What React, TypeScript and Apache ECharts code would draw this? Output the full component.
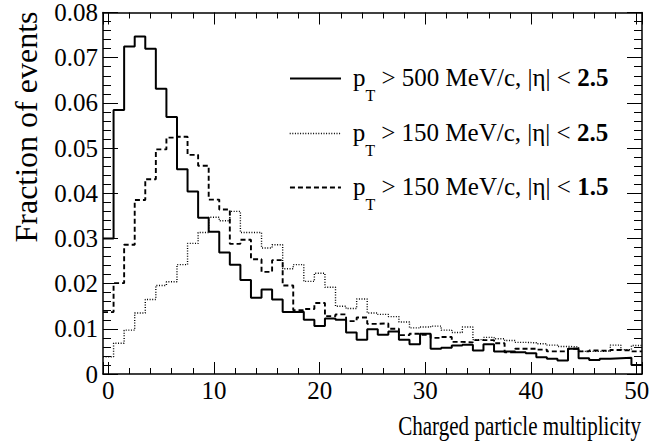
import React, { useEffect, useRef } from "react";
import * as echarts from "echarts";

// Bin centres of the charged-particle multiplicity histogram (bin width 1)
const multiplicity = [
  0, 1, 2, 3, 4, 5, 6, 7, 8, 9, 10, 11, 12, 13, 14, 15, 16, 17, 18, 19, 20,
  21, 22, 23, 24, 25, 26, 27, 28, 29, 30, 31, 32, 33, 34, 35, 36, 37, 38, 39,
  40, 41, 42, 43, 44, 45, 46, 47, 48, 49, 50,
];

// pT > 500 MeV/c, |eta| < 2.5 (solid)
const pt500eta25 = [
  0.030, 0.0584, 0.0725, 0.0747, 0.072, 0.0631, 0.0569, 0.0453, 0.0404, 0.0346,
  0.0315, 0.0269, 0.0242, 0.0208, 0.0169, 0.0187, 0.0165, 0.0137, 0.0138, 0.012,
  0.0106, 0.0123, 0.012, 0.0092, 0.0076, 0.0099, 0.0087, 0.0094, 0.0076, 0.0066,
  0.0089, 0.0056, 0.0058, 0.0063, 0.0065, 0.0052, 0.0066, 0.005, 0.005, 0.0048,
  0.0046, 0.0037, 0.0034, 0.003, 0.0056, 0.0035, 0.0031, 0.0034, 0.0035, 0.0036,
  0.002,
];

// pT > 150 MeV/c, |eta| < 2.5 (dotted)
const pt150eta25 = [
  0.0038, 0.0068, 0.0097, 0.0135, 0.0165, 0.0196, 0.0204, 0.0242, 0.0289, 0.0313,
  0.0347, 0.0339, 0.036, 0.0313, 0.0313, 0.0279, 0.0286, 0.0233, 0.0242, 0.0205,
  0.0223, 0.0192, 0.015, 0.0145, 0.0166, 0.0135, 0.0132, 0.0127, 0.0115, 0.0102,
  0.0104, 0.0106, 0.0097, 0.0092, 0.0104, 0.0076, 0.0081, 0.0078, 0.0074, 0.007,
  0.0069, 0.0067, 0.0064, 0.0061, 0.006, 0.005, 0.005, 0.0051, 0.0064, 0.0054,
  0.0063,
];

// pT > 150 MeV/c, |eta| < 1.5 (dashed)
const pt150eta15 = [
  0.0137, 0.0201, 0.0286, 0.0385, 0.0431, 0.0497, 0.0523, 0.0525, 0.0485, 0.0461,
  0.0386, 0.0364, 0.0288, 0.0297, 0.0254, 0.0226, 0.0252, 0.0196, 0.0141, 0.0144,
  0.0157, 0.0128, 0.0132, 0.0117, 0.0125, 0.0111, 0.0112, 0.01, 0.0086, 0.0089,
  0.0087, 0.008, 0.0082, 0.0071, 0.007, 0.0075, 0.0075, 0.0068, 0.0048, 0.0056,
  0.0056, 0.0054, 0.005, 0.005, 0.0056, 0.005, 0.0052, 0.0051, 0.0053, 0.0052,
  0.005,
];

const seriesNames = [
  "pT > 500 MeV/c, |η| < 2.5",
  "pT > 150 MeV/c, |η| < 2.5",
  "pT > 150 MeV/c, |η| < 1.5",
];
const legendRich = [
  "{p|p}{s|T}{t| > 500 MeV/c, |η| < }{b|2.5}",
  "{p|p}{s|T}{t| > 150 MeV/c, |η| < }{b|2.5}",
  "{p|p}{s|T}{t| > 150 MeV/c, |η| < }{b|1.5}",
];

const xTitle = "Charged particle multiplicity";
const yTitle = "Fraction of events";

const FONT = "Liberation Serif, Times New Roman, Times, serif";

// histogram outline: one point at each bin's lower edge, plus the last upper edge
function toSteps(values: number[]) {
  const pts: number[][] = multiplicity.map((m, i) => [m - 0.5, values[i]]);
  const last = multiplicity.length - 1;
  pts.push([multiplicity[last] + 0.5, values[last]]);
  return pts;
}

export default function App() {
  const ref = useRef<HTMLDivElement>(null);

  useEffect(() => {
    if (!ref.current) return;
    const chart = echarts.init(ref.current, undefined, { renderer: "svg" });

    const styles = [
      { color: "#000", width: 2, type: "solid" as any },
      { color: "#000", width: 1.4, type: [1, 1.6] as any },
      { color: "#000", width: 1.9, type: [5, 3] as any },
    ];
    const dataSets = [pt500eta25, pt150eta25, pt150eta15];

    const rich = {
      p: { fontFamily: FONT, fontSize: 25, color: "#000", lineHeight: 28, verticalAlign: "top", padding: [0, 0, 0, 7] },
      s: { fontFamily: FONT, fontSize: 16, color: "#000", lineHeight: 16, verticalAlign: "top", padding: [23, 0, 0, 0] },
      t: { fontFamily: FONT, fontSize: 25, color: "#000", lineHeight: 28, verticalAlign: "top" },
      b: { fontFamily: FONT, fontSize: 25, fontWeight: "bold", color: "#000", lineHeight: 28, verticalAlign: "top" },
    };
    const tickRich = {
      n: { fontFamily: FONT, fontSize: 25, color: "#000", lineHeight: 26 },
    };
    const legendTops = [64.5, 119.5, 173.5];

    const commonXAxis = {
      type: "value",
      min: -0.5,
      max: 50.5,
      splitLine: { show: false },
      axisLine: { show: true, onZero: false, lineStyle: { color: "#000", width: 1.5 } },
      axisTick: { show: true, inside: true, length: 12, lineStyle: { color: "#000", width: 1 } },
      minorTick: { show: true, splitNumber: 5, length: 6, lineStyle: { color: "#000", width: 1 } },
    };
    const commonYAxis = {
      type: "value",
      min: 0,
      max: 0.08,
      interval: 0.01,
      splitLine: { show: false },
      axisLine: { show: true, onZero: false, lineStyle: { color: "#000", width: 1.5 } },
      axisTick: { show: true, inside: true, length: 15, lineStyle: { color: "#000", width: 1 } },
      minorTick: { show: true, splitNumber: 5, length: 8, lineStyle: { color: "#000", width: 1 } },
    };

    chart.setOption({
      animation: false,
      backgroundColor: "#fff",
      textStyle: { fontFamily: FONT, color: "#000" },
      grid: { left: 103, top: 10, width: 539, height: 364, containLabel: false },
      xAxis: [
        {
          ...commonXAxis,
          position: "bottom",
          axisLabel: {
            show: true,
            fontFamily: FONT,
            fontSize: 25,
            color: "#000",
            margin: 3,
            showMinLabel: false,
            showMaxLabel: false,
            formatter: (v: number) => `{n|${Math.round(v)}}`,
            rich: tickRich,
          },
        },
        { ...commonXAxis, position: "top", axisLabel: { show: false } },
      ],
      yAxis: [
        {
          ...commonYAxis,
          position: "left",
          axisLabel: {
            show: true,
            fontFamily: FONT,
            fontSize: 25,
            color: "#000",
            margin: 5,
            formatter: (v: number) => `{n|${v === 0 ? "0" : v.toFixed(2)}}`,
            rich: tickRich,
          },
        },
        { ...commonYAxis, position: "right", axisLabel: { show: false } },
      ],
      legend: seriesNames.map((name, i) => ({
        data: [name],
        left: 289,
        top: legendTops[i],
        padding: 0,
        orient: "vertical",
        itemWidth: 51,
        itemHeight: 14,
        selectedMode: false,
        itemStyle: { opacity: 0, borderWidth: 0 },
        lineStyle: { width: styles[i].width, type: styles[i].type, color: "#000" },
        formatter: () => legendRich[i],
        textStyle: { fontFamily: FONT, fontSize: 25, color: "#000", rich },
      })),
      series: seriesNames.map((name, i) => ({
        name,
        type: "line",
        step: "end",
        symbol: "none",
        silent: true,
        xAxisIndex: 0,
        yAxisIndex: 0,
        data: toSteps(dataSets[i]),
        lineStyle: { color: styles[i].color, width: styles[i].width, type: styles[i].type, cap: "butt" },
        itemStyle: { color: "#000" },
      })),
      graphic: [
        {
          type: "text",
          x: 641,
          y: 426,
          silent: true,
          scaleX: 0.78,
          style: {
            text: xTitle,
            fill: "#000",
            fontFamily: FONT,
            fontSize: 27,
            align: "right",
            textAlign: "right",
            verticalAlign: "middle",
            textVerticalAlign: "middle",
          },
        },
        {
          type: "text",
          x: 26,
          y: 127,
          rotation: Math.PI / 2,
          silent: true,
          style: {
            text: yTitle,
            fill: "#000",
            fontFamily: FONT,
            fontSize: 32,
            align: "center",
            textAlign: "center",
            verticalAlign: "middle",
            textVerticalAlign: "middle",
          },
        },
      ],
    });

    return () => chart.dispose();
  }, []);

  return (
    <div
      ref={ref}
      style={{ position: "fixed", left: 0, top: 0, width: 659, height: 444, background: "#fff" }}
    />
  );
}
